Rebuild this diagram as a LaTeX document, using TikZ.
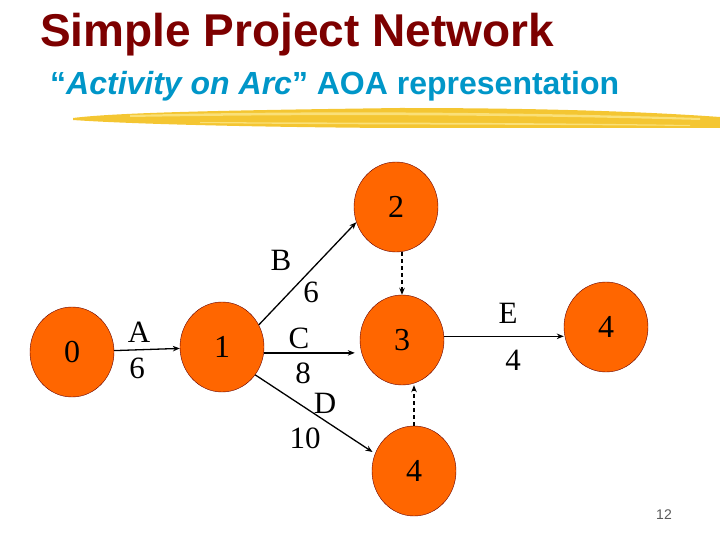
\documentclass[tikz,border=0pt]{standalone}
\usepackage{fontspec}
\setmainfont{Liberation Serif}
\newfontfamily\headfont{Liberation Sans}
\usetikzlibrary{arrows.meta,shapes.geometric}
\definecolor{eventcol}{RGB}{255,102,0}
\definecolor{titlecol}{RGB}{125,0,0}
\definecolor{subcol}{RGB}{0,150,200}
\definecolor{brushcol}{RGB}{244,198,50}
\definecolor{brushlite}{RGB}{250,224,120}

\begin{document}
\begin{tikzpicture}[x=1pt,y=-1pt,>=Stealth]
\tikzset{
  event/.style={ellipse,draw=black!60!red,fill=eventcol,minimum width=84pt,minimum height=90pt,inner sep=0pt,font=\fontsize{32}{32}\selectfont},
  act/.style={-{Stealth[length=7pt,width=5.5pt]},line width=1.3pt},
  dummy/.style={act,line width=1.1pt,dash pattern=on 4pt off 3pt},
  lab/.style={font=\fontsize{31}{31}\selectfont,inner sep=0pt}
}
\useasboundingbox (0,0) rectangle (720,540);
% heading
\node[anchor=base west,inner sep=0pt,text=titlecol,font=\headfont\bfseries\fontsize{46}{46}\selectfont] (title) at (40,47) {Simple Project Network};
\node[anchor=base west,inner sep=0pt,text=subcol,font=\headfont\bfseries\fontsize{32}{32}\selectfont] (subtitle) at (50,95) {“\textit{Activity on Arc}” AOA representation};
% brush stroke
\fill[brushcol] (73,118) .. controls (120,112) and (250,110) .. (400,108) .. controls (550,108) and (650,112) .. (720,117) -- (720,128) .. controls (550,128) and (400,128) .. (390,128) .. controls (250,127) and (130,124) .. (73,120) -- cycle;
\fill[brushlite] (130,115) .. controls (250,112) and (450,110) .. (700,118) -- (700,120) .. controls (450,113) and (250,115) .. (130,117) -- cycle;
\fill[brushlite] (200,122) .. controls (350,123) and (500,122) .. (690,125) -- (690,126) .. controls (500,124) and (350,125) .. (200,123) -- cycle;
% events
\node[event] (n0) at (72,352) {0};
\node[event] (n1) at (222,347) {1};
\node[event] (n2) at (396,207) {2};
\node[event] (n3) at (402,340) {3};
\node[event] (n4) at (606,327) {4};
\node[event] (n5) at (414,471) {4};
% activities
\draw[act] (n0) -- (n1);
\draw[act] (n1.31) -- (n2.201);
\draw[act,shorten >=5pt] (n1.-8) -- (n3.west |- n1.-8);
\draw[act,shorten >=3pt] (n1.-40) -- (n5.156);
\draw[act] (n3.5) -- (n4.west |- n3.5);
% dummies
\draw[dummy] (n3.north |- n2.south) -- (n3.north);
\draw[dummy] (n5.north) -- (n5.north |- n3.south);
% labels
\node[lab] (la) at (139,332) {A};
\node[lab] (ta) at (137,368) {6};
\node[lab] (lb) at (281,260) {B};
\node[lab] (tb) at (311,292) {6};
\node[lab] (lc) at (299,338) {C};
\node[lab] (tc) at (303,373) {8};
\node[lab] (ld) at (325,403) {D};
\node[lab] (td) at (305,438) {10};
\node[lab] (le) at (508,313) {E};
\node[lab] (te) at (513,360) {4};
% slide number
\node[text=black!65,font=\headfont\fontsize{14}{14}\selectfont] (page) at (664,515) {12};
\end{tikzpicture}
\end{document}
